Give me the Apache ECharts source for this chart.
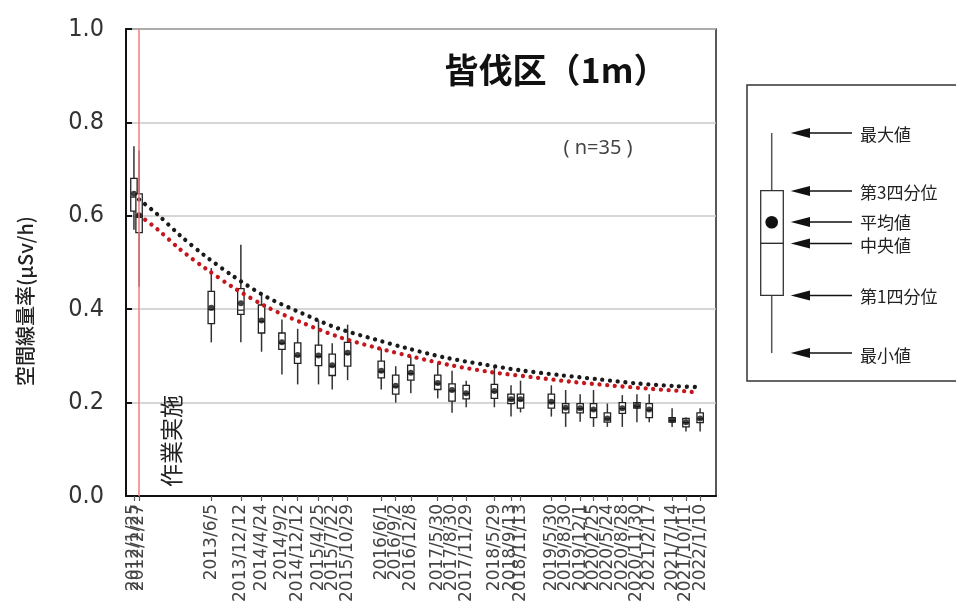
<!DOCTYPE html>
<html><head><meta charset="utf-8">
<script src="https://cdn.jsdelivr.net/npm/echarts@6/dist/echarts.min.js"></script>
<style>html,body{margin:0;padding:0;background:#fff}#c{width:956px;height:607px}</style>
</head><body><div id="c"></div>
<script>
// ---- data ----
const dates = ['2012-01-25','2012-02-27','2013-06-05','2013-12-12','2014-04-24','2014-09-02','2014-12-12','2015-04-25','2015-07-22','2015-10-29',
  '2016-06-01','2016-09-02','2016-12-08','2017-05-30','2017-08-30','2017-11-29','2018-05-29','2018-09-13','2018-11-13','2019-05-30',
  '2019-08-30','2019-12-01','2020-02-25','2020-05-24','2020-08-28','2020-11-30','2021-02-17','2021-07-14','2021-10-11','2022-01-10'];
const dateLabels = ['2012/1/25','2012/2/27','2013/6/5','2013/12/12','2014/4/24','2014/9/2','2014/12/12','2015/4/25','2015/7/22','2015/10/29',
  '2016/6/1','2016/9/2','2016/12/8','2017/5/30','2017/8/30','2017/11/29','2018/5/29','2018/9/13','2018/11/13','2019/5/30',
  '2019/8/30','2019/12/1','2020/2/25','2020/5/24','2020/8/28','2020/11/30','2021/2/17','2021/7/14','2021/10/11','2022/1/10'];
const minVals    = [0.570,0.448,0.329,0.329,0.309,0.260,0.239,0.239,0.228,0.248,0.228,0.200,0.220,0.209,0.178,0.190,0.190,0.170,0.179,0.170,0.148,0.159,0.148,0.148,0.148,0.158,0.158,0.148,0.138,0.138];
const q1Vals     = [0.610,0.564,0.369,0.389,0.349,0.314,0.284,0.279,0.258,0.278,0.253,0.218,0.248,0.228,0.203,0.208,0.209,0.198,0.188,0.188,0.178,0.178,0.168,0.158,0.177,0.188,0.168,0.158,0.148,0.157];
const medianVals = [0.640,0.597,0.399,0.398,0.374,0.327,0.300,0.299,0.278,0.304,0.266,0.234,0.262,0.240,0.225,0.219,0.223,0.206,0.205,0.200,0.188,0.187,0.184,0.165,0.187,0.192,0.184,0.162,0.157,0.165];
const q3Vals     = [0.680,0.647,0.438,0.444,0.409,0.349,0.328,0.323,0.304,0.329,0.289,0.259,0.280,0.259,0.240,0.237,0.239,0.218,0.218,0.218,0.198,0.198,0.198,0.178,0.200,0.200,0.198,0.168,0.166,0.178];
const maxVals    = [0.749,0.740,0.488,0.538,0.437,0.378,0.358,0.376,0.327,0.367,0.316,0.278,0.298,0.284,0.268,0.247,0.278,0.237,0.247,0.237,0.227,0.218,0.227,0.198,0.216,0.218,0.218,0.188,0.168,0.188];
const meanVals   = [0.647,0.601,0.403,0.413,0.376,0.329,0.302,0.301,0.280,0.307,0.268,0.236,0.264,0.242,0.227,0.220,0.225,0.207,0.207,0.202,0.189,0.188,0.185,0.166,0.188,0.193,0.185,0.163,0.158,0.166];

const blackCurveDates = ['2012-02-27','2012-06-21','2012-11-16','2013-04-19','2013-10-27','2014-05-27','2015-01-11','2015-08-28','2016-04-26','2016-11-07','2017-07-08','2018-03-13','2018-11-16','2019-07-21','2020-03-27','2020-12-03','2021-08-11','2022-01-10'];
const blackCurveVals  = [0.635,0.604,0.558,0.516,0.470,0.426,0.391,0.359,0.335,0.317,0.297,0.282,0.269,0.259,0.250,0.241,0.235,0.233];
const redCurveDates = ['2012-02-27','2012-06-21','2012-11-17','2013-04-30','2013-10-27','2014-06-02','2015-01-17','2015-09-08','2016-05-07','2017-01-04','2017-09-05','2018-05-14','2019-01-18','2019-09-25','2020-06-04','2021-02-08','2021-10-16','2021-12-07'];
const redCurveVals  = [0.601,0.572,0.528,0.487,0.446,0.404,0.370,0.340,0.317,0.297,0.279,0.265,0.255,0.245,0.237,0.230,0.224,0.222];

const workDate = '2012-02-27';
const xRange = ['2011-12-05', '2022-04-22'];
const yTicks = [0, 0.2, 0.4, 0.6, 0.8, 1.0];
const legendLabels = ['最大値','第3四分位','平均値','中央値','第1四分位','最小値'];

// ---- build ----
function ts(s){ const p = s.split('-').map(Number); return new Date(p[0], p[1]-1, p[2]).getTime(); }
const labelMap = {};
dates.forEach((d,i)=>{ labelMap[ts(d)] = dateLabels[i]; });
const tickValues = dates.map(ts);
const evenTicks = tickValues.filter((v,i)=>i%2===0);
const oddTicks = tickValues.filter((v,i)=>i%2===1);
const boxData = dates.map((d,i)=>[ts(d), minVals[i], q1Vals[i], medianVals[i], q3Vals[i], maxVals[i]]);
const meanData = dates.map((d,i)=>[ts(d), meanVals[i]]);
const blackData = blackCurveDates.map((d,i)=>[ts(d), blackCurveVals[i]]);
const redData = redCurveDates.map((d,i)=>[ts(d), redCurveVals[i]]);

const cjk = "'Noto Sans CJK JP','Noto Sans',sans-serif";
const narrow = "'Liberation Sans Narrow','Arial Narrow','DejaVu Sans Condensed','Liberation Sans',sans-serif";
const xLabelFont = "'DejaVu Sans',sans-serif";

// legend graphic
const LX = 771.7;
const legY = [133, 191, 222, 243.5, 295.5, 353];
const legTextY = [135, 192.5, 222.5, 246, 296.5, 356];
const legendEls = [
  {type:'rect', shape:{x:747, y:85, width:230, height:296}, style:{fill:'#fff', stroke:'#333', lineWidth:1.5}, z:1},
  {type:'line', shape:{x1:LX, y1:133, x2:LX, y2:353}, style:{stroke:'#555', lineWidth:1.5}, z:2},
  {type:'rect', shape:{x:760.7, y:190.7, width:22.6, height:104.6}, style:{fill:'#fff', stroke:'#333', lineWidth:1.3}, z:3},
  {type:'line', shape:{x1:760.7, y1:243.3, x2:783.3, y2:243.3}, style:{stroke:'#222', lineWidth:1.3}, z:4},
  {type:'circle', shape:{cx:LX, cy:222.3, r:6.3}, style:{fill:'#111'}, z:4}
];
legY.forEach((y,i)=>{
  legendEls.push({type:'line', shape:{x1:806, y1:y, x2:852, y2:y}, style:{stroke:'#111', lineWidth:1.5}, z:4});
  legendEls.push({type:'polygon', shape:{points:[[790.7,y],[810,y-5],[810,y+5]]}, style:{fill:'#111'}, z:4});
  legendEls.push({type:'text', x:860, y:legTextY[i], style:{text:legendLabels[i], fill:'#222', font:"17px "+cjk, textAlign:'left', textVerticalAlign:'middle'}, z:4});
});

function xAxisDef(labelValues, showLineAndTicks){
  return {
    type:'value', position:'bottom', min:ts(xRange[0]), max:ts(xRange[1]), scale:true,
    axisLine:{show:showLineAndTicks, onZero:false, lineStyle:{color:'#111', width:2}},
    axisTick:{show:showLineAndTicks, inside:false, length:5, lineStyle:{color:'#555', width:1.2}, customValues:tickValues},
    axisLabel:{show:true, rotate:90, margin:8, customValues:labelValues, hideOverlap:false,
      color:'#444', fontSize:17, fontFamily:xLabelFont,
      formatter:function(v){ return labelMap[v] || ''; }},
    splitLine:{show:false}, minorTick:{show:false}
  };
}

const chart = echarts.init(document.getElementById('c'), null, {renderer:'canvas'});
chart.setOption({
  animation:false,
  backgroundColor:'#fff',
  grid:{left:126, right:240, top:29, bottom:111, containLabel:false, outerBoundsMode:'none',
        show:true, borderColor:'#222', borderWidth:1.5, backgroundColor:'transparent'},
  xAxis:[ xAxisDef(evenTicks, true), xAxisDef(oddTicks, false) ],
  yAxis:{
    type:'value', min:0, max:1, interval:0.2,
    axisLine:{show:true, lineStyle:{color:'#111', width:2}},
    axisTick:{show:true, inside:true, length:6, lineStyle:{color:'#111', width:2}},
    axisLabel:{color:'#333', fontSize:25, fontFamily:narrow, margin:22, formatter:function(v){return v.toFixed(1);}},
    splitLine:{show:true, lineStyle:{color:'#c8c8c8', width:1.5}}
  },
  graphic:[
    {type:'text', x:556, y:70, style:{text:'皆伐区（1m）', font:"bold 34px "+cjk, fill:'#111', textAlign:'center', textVerticalAlign:'middle'}, z:10},
    {type:'text', x:598, y:148, style:{text:'( n=35 )', font:"20px 'Noto Sans',sans-serif", fill:'#444', textAlign:'center', textVerticalAlign:'middle'}, z:10},
    {type:'text', x:171, y:441, rotation:Math.PI/2, style:{text:'作業実施', font:"23px "+cjk, fill:'#222', textAlign:'center', textVerticalAlign:'middle'}, z:10},
    {type:'text', x:25, y:301, rotation:Math.PI/2, style:{text:'空間線量率(μSv/h)', font:"500 20px "+cjk, fill:'#222', textAlign:'center', textVerticalAlign:'middle'}, z:10},
    {type:'group', children:legendEls}
  ],
  series:[
    {
      type:'custom', name:'box', z:2, xAxisIndex:0,
      data:boxData, encode:{x:0, y:[1,2,3,4,5]},
      renderItem:function(params, api){
        const t = api.value(0);
        const x = api.coord([t, 0])[0];
        const yMin = api.coord([t, api.value(1)])[1];
        const yQ1 = api.coord([t, api.value(2)])[1];
        const yMed = api.coord([t, api.value(3)])[1];
        const yQ3 = api.coord([t, api.value(4)])[1];
        const yMax = api.coord([t, api.value(5)])[1];
        const hw = 3.2;
        return {type:'group', children:[
          {type:'line', shape:{x1:x, y1:yMax, x2:x, y2:yMin}, style:{stroke:'#333', lineWidth:1.5}},
          {type:'rect', shape:{x:x-hw, y:yQ3, width:2*hw, height:yQ1-yQ3}, style:{fill:'#fff', stroke:'#222', lineWidth:1.3}},
          {type:'line', shape:{x1:x-hw, y1:yMed, x2:x+hw, y2:yMed}, style:{stroke:'#222', lineWidth:1.2}}
        ]};
      }
    },
    {
      type:'line', name:'black', z:3, xAxisIndex:0, data:blackData, showSymbol:false, smooth:0.3,
      lineStyle:{color:'#1a1a1a', width:4.3, type:[0.01, 7.7], cap:'round'}, silent:true
    },
    {
      type:'line', name:'red', z:3, xAxisIndex:0, data:redData, showSymbol:false, smooth:0.3,
      lineStyle:{color:'#c4161c', width:4.3, type:[0.01, 7.7], cap:'round'}, silent:true
    },
    {
      type:'scatter', name:'mean', z:4, xAxisIndex:0, data:meanData, symbol:'circle', symbolSize:6,
      itemStyle:{color:'#111'}, silent:true
    },
    {
      type:'line', name:'work', z:5, xAxisIndex:0, data:[],
      markLine:{silent:true, symbol:['none','none'], label:{show:false},
        lineStyle:{color:'#f47c7c', width:1.5, type:'solid'}, data:[{xAxis:ts(workDate)}]}
    }
  ]
});
</script></body></html>
